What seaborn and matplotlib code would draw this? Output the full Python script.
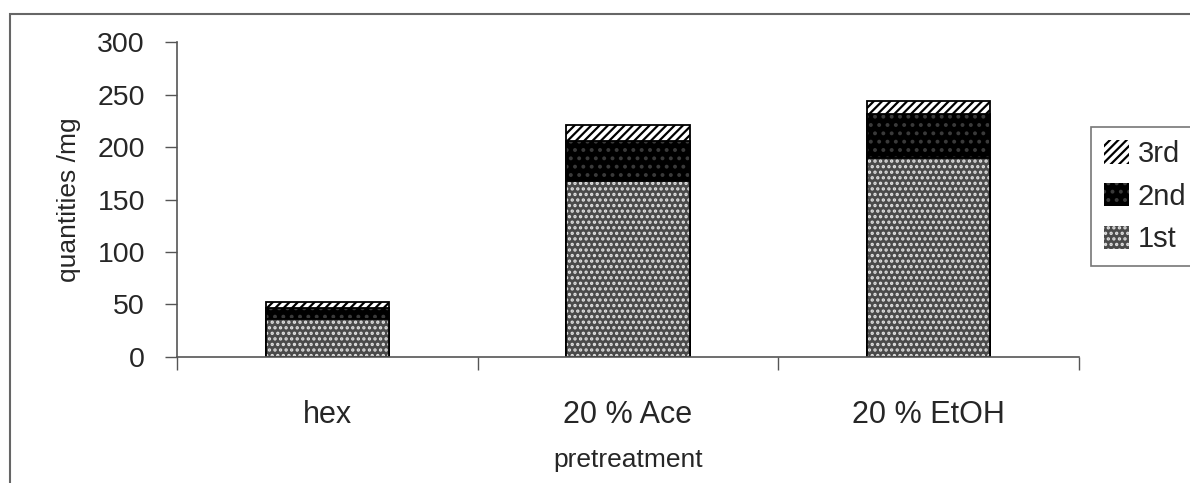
import matplotlib
matplotlib.use("Agg")
import matplotlib.pyplot as plt
from matplotlib.patches import Patch, Rectangle
import numpy as np
import pandas as pd
import seaborn as sns

# Extraction yields per pretreatment (mg)
categories = ["hex", "20 % Ace", "20 % EtOH"]
first = [36, 168, 190]
second = [11, 38, 41]
third = [5, 15, 13]
series_names = ["1st", "2nd", "3rd"]
y_ticks = [0, 50, 100, 150, 200, 250, 300]

sns.set_theme(style="white")
plt.rcParams["font.family"] = ["Liberation Sans", "DejaVu Sans"]
plt.rcParams["hatch.linewidth"] = 1.6

df = pd.DataFrame({
    "pretreatment": categories,
    "1st": first,
    "2nd": second,
    "3rd": third,
})
df["cum2"] = df["1st"] + df["2nd"]
df["cum3"] = df["cum2"] + df["3rd"]

fig = plt.figure(figsize=(11.9, 4.83), dpi=100)
ax = fig.add_axes([0.1487, 0.2609, 0.7580, 0.6521])

styles = {
    "3rd": dict(color="white", hatch="////", hatchcolor="black"),
    "2nd": dict(color="black", hatch="..", hatchcolor="#3a3a3a"),
    "1st": dict(color="#4a4a4a", hatch="...", hatchcolor="#e0e0e0"),
}
layers = [("cum3", "3rd"), ("cum2", "2nd"), ("1st", "1st")]
bar_w = 0.41
for col, name in layers:
    st = styles[name]
    # fill with hatch drawn in its own colour
    sns.barplot(data=df, x="pretreatment", y=col, ax=ax, width=bar_w,
                color=st["color"], saturation=1, edgecolor=st["hatchcolor"],
                hatch=st["hatch"], linewidth=0)
    # crisp black outline
    sns.barplot(data=df, x="pretreatment", y=col, ax=ax, width=bar_w,
                facecolor="none", edgecolor="black", linewidth=1.3)

ax.set_xlim(-0.5, 2.5)
ax.set_ylim(0, 300)
ax.set_yticks(y_ticks)
ax.set_yticklabels([str(v) for v in y_ticks], fontsize=20.5)
ax.set_xticks(range(len(categories)))
ax.set_xticklabels(categories, fontsize=22)
ax.set_xticks(np.arange(-0.5, len(categories)), minor=True)
ax.tick_params(axis="x", which="major", length=0, pad=31)
ax.tick_params(axis="x", which="minor", length=9, width=1, color="#555555",
               direction="out", bottom=True)
ax.tick_params(axis="y", which="major", length=9, width=1, color="#555555",
               direction="out", left=True, pad=14)

for s in ["top", "right"]:
    ax.spines[s].set_visible(False)
for s in ["left", "bottom"]:
    ax.spines[s].set_color("#555555")
    ax.spines[s].set_linewidth(1.2)

ax.set_xlabel("pretreatment", fontsize=19, labelpad=13)
ax.set_ylabel("quantities /mg", fontsize=19, labelpad=12)

handles = [
    Patch(facecolor=styles[n]["color"], edgecolor=styles[n]["hatchcolor"],
          hatch=styles[n]["hatch"], linewidth=0)
    for n in ["3rd", "2nd", "1st"]
]
leg = fig.legend(handles, ["3rd", "2nd", "1st"], loc="upper left",
                 bbox_to_anchor=(1091 / 1190, 1 - 127 / 483), fontsize=21,
                 frameon=True, fancybox=False, handlelength=0.85,
                 handleheight=0.85, handletextpad=0.3, labelspacing=0.5,
                 borderpad=0.45, borderaxespad=0)
leg.get_frame().set_edgecolor("#555555")
leg.get_frame().set_linewidth(1.2)

# outer chart border
fig.patches.append(Rectangle((10 / 1190, -0.05), 1.2, 1 - 14 / 483 + 0.05,
                             transform=fig.transFigure, fill=False,
                             edgecolor="#666666", linewidth=1.5))

fig.savefig("out.png", dpi=100)
